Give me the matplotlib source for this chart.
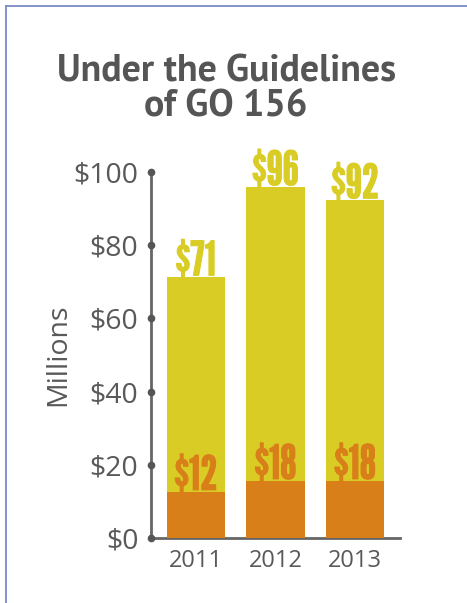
import matplotlib
matplotlib.use("Agg")
import matplotlib.pyplot as plt
from matplotlib.lines import Line2D
import matplotlib.patheffects as pe

years = ["2011", "2012", "2013"]
total_values = [71.3, 96.0, 92.4]
total_labels = ["$71", "$96", "$92"]
part_values = [12.6, 15.6, 15.6]
part_labels = ["$12", "$18", "$18"]
y_ticks = [0, 20, 40, 60, 80, 100]
y_tick_labels = ["$0", "$20", "$40", "$60", "$80", "$100"]

yellow = "#d9cd25"
orange = "#d97f1a"
gray = "#595959"

fig = plt.figure(figsize=(4.67, 6.03), dpi=100)
ax = fig.add_axes([0.3233, 0.1083, 0.5332, 0.606])

x = range(len(years))
ax.bar(x, total_values, width=0.73, color=yellow, zorder=2)
ax.bar(x, part_values, width=0.73, color=orange, zorder=3)

label_font = dict(family="League Gothic", size=34)
for i in x:
    ax.text(i, total_values[i] + 0.5, total_labels[i], ha="center", va="baseline",
            color=yellow, zorder=4, **label_font,
            path_effects=[pe.withStroke(linewidth=0.8, foreground=yellow)])
    ax.text(i, part_values[i] + 0.5, part_labels[i], ha="center", va="baseline",
            color=orange, zorder=4, **label_font,
            path_effects=[pe.withStroke(linewidth=0.8, foreground=orange)])

tick_font = dict(family="Open Sans", weight="normal", color=gray)
ax.set_xlim(-0.565, 2.565)
ax.set_ylim(0, 100)
ax.set_xticks(list(x))
ax.set_xticklabels(years, fontsize=17, **tick_font)
ax.set_yticks(y_ticks)
ax.set_yticklabels(y_tick_labels, fontsize=20.5, **tick_font)
ax.tick_params(axis="y", length=0, pad=9)
ax.tick_params(axis="x", length=0, pad=8)

# dots on the y axis
ax.plot([0] * len(y_ticks), y_ticks, "o", color="#555555", markersize=4.5,
        transform=ax.get_yaxis_transform(), clip_on=False, zorder=5)

for side in ["top", "right"]:
    ax.spines[side].set_visible(False)
for side in ["left", "bottom"]:
    ax.spines[side].set_color("#666666")
    ax.spines[side].set_linewidth(2)

ax.set_ylabel("Millions", fontsize=20.5, labelpad=1, **tick_font)

fig.text(0.484, 0.909, "Under the Guidelines\nof GO 156", ha="center", va="top",
         fontsize=27.3, family="PT Sans", weight="bold", color="#555555", linespacing=1.0)

# frame lines on top and left
fig.add_artist(Line2D([5.5 / 467, 1], [1 - 5.5 / 603, 1 - 5.5 / 603], color="#7a8bc8", lw=1.3))
fig.add_artist(Line2D([5.5 / 467, 5.5 / 467], [0, 1 - 5.5 / 603], color="#7a8bc8", lw=1.3))

fig.savefig("out.png", dpi=100)
